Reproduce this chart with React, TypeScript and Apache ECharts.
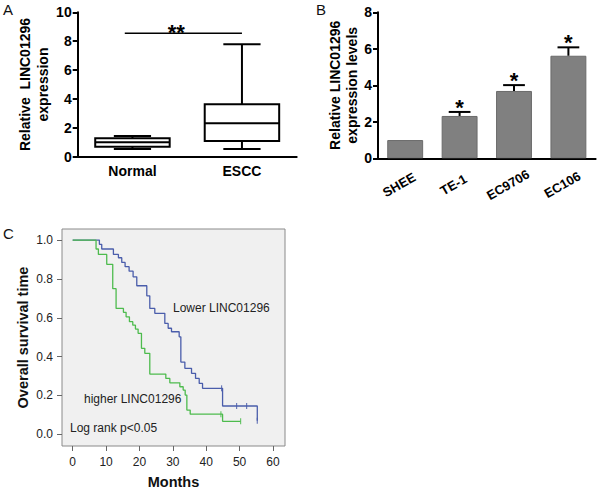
import React, { useEffect, useRef } from 'react';
import * as echarts from 'echarts';

const FONT = '"Liberation Sans", Arial, Helvetica, sans-serif';

// ---- Panel A: box plot ----
const boxCategories = ['Normal', 'ESCC'];
const boxMin = [0.53, 0.53];
const boxQ1 = [0.69, 1.09];
const boxMedian = [1.0, 2.31];
const boxQ3 = [1.27, 3.63];
const boxMax = [1.43, 7.79];
const boxYTicks = { min: 0, max: 10, interval: 2 };
const boxSigValue = 8.55;
const boxSigLabel = '**';

// ---- Panel B: bar chart ----
const cellLines = ['SHEE', 'TE-1', 'EC9706', 'EC106'];
const cellMeans = [1.0, 2.32, 3.69, 5.62];
const cellErrors = [0, 0.22, 0.32, 0.46];
const cellSig = ['', '*', '*', '*'];
const barYTicks = { min: 0, max: 8, interval: 2 };

// ---- Panel C: Kaplan-Meier ----
const lowerMonths = [0, 8.0, 8.7, 12.2, 13.7, 14.7, 15.7, 16.9, 18.1, 19.2, 22.2, 23.1, 24.6, 27.6, 28.6, 29.6, 31.9, 32.4, 33.6, 35.6, 36.8, 37.9, 38.9, 44.9, 55.3];
const lowerSurv = [1.0, 0.978, 0.954, 0.926, 0.909, 0.885, 0.863, 0.84, 0.811, 0.765, 0.713, 0.648, 0.623, 0.571, 0.546, 0.528, 0.502, 0.372, 0.34, 0.314, 0.288, 0.262, 0.237, 0.146, 0.07];
const lowerCensorMonths = [44.6, 49.1, 52.1, 55.3];
const lowerCensorSurv = [0.237, 0.146, 0.146, 0.07];
const higherMonths = [0, 7.0, 7.7, 10.2, 12.0, 13.0, 15.2, 16.0, 17.0, 18.0, 18.8, 19.6, 20.6, 21.6, 23.1, 27.9, 29.1, 32.1, 33.1, 33.7, 34.2, 35.2, 44.9, 50.3];
const higherSurv = [1.0, 0.954, 0.926, 0.875, 0.75, 0.648, 0.628, 0.605, 0.58, 0.562, 0.542, 0.52, 0.443, 0.417, 0.31, 0.288, 0.265, 0.245, 0.228, 0.202, 0.125, 0.104, 0.067, 0.067];
const higherCensorMonths = [44.4, 50.3];
const higherCensorSurv = [0.104, 0.067];
const monthTicks = [0, 10, 20, 30, 40, 50, 60];
const survTicks = [0, 0.2, 0.4, 0.6, 0.8, 1.0];

const BLUE = '#4a5dab';
const GREEN = '#4dbb4d';

export default function App() {
  const ref = useRef<HTMLDivElement>(null);

  useEffect(() => {
    if (!ref.current) return;
    const chart = echarts.init(ref.current, undefined, { renderer: 'svg' });

    const boldAxisLabel = { color: '#000', fontSize: 14, fontWeight: 'bold', fontFamily: FONT };
    const blackLine = { lineStyle: { color: '#000', width: 2 } };

    const option: any = {
      animation: false,
      backgroundColor: '#fff',
      grid: [
        { left: 77.7, top: 12.3, width: 219, height: 144.4, outerBoundsMode: 'none' },
        { left: 378, top: 12.3, width: 217.6, height: 146, outerBoundsMode: 'none' },
        {
          left: 62, top: 229, width: 223, height: 217, outerBoundsMode: 'none',
          show: true, backgroundColor: '#f0f0f0', borderColor: '#8a8a8a', borderWidth: 1,
        },
      ],
      xAxis: [
        {
          type: 'category', gridIndex: 0, data: boxCategories,
          axisLine: { show: true, onZero: false, ...blackLine },
          axisTick: { alignWithLabel: true, length: 5, ...blackLine },
          axisLabel: { ...boldAxisLabel, margin: 7 },
          splitLine: { show: false },
        },
        {
          type: 'category', gridIndex: 1, data: cellLines,
          axisLine: { show: true, onZero: false, ...blackLine },
          axisTick: { alignWithLabel: true, length: 5, ...blackLine },
          axisLabel: {
            ...boldAxisLabel, fontSize: 13, rotate: 30, align: 'center', verticalAlign: 'middle',
            margin: 23, padding: [0, 14, 0, 0],
          },
          splitLine: { show: false },
        },
        {
          type: 'value', gridIndex: 2, min: -3.2, max: 63.6,
          axisLine: { show: false, onZero: false },
          axisTick: { show: true, customValues: monthTicks, length: 5, lineStyle: { color: '#666', width: 1 } },
          axisLabel: { customValues: monthTicks, color: '#222', fontSize: 12, fontFamily: FONT, margin: 10 },
          splitLine: { show: false },
          name: 'Months', nameLocation: 'middle', nameGap: 28,
          nameTextStyle: { color: '#111', fontSize: 14.5, fontWeight: 'bold', fontFamily: FONT },
        },
      ],
      yAxis: [
        {
          type: 'value', gridIndex: 0, ...boxYTicks,
          axisLine: { show: true, onZero: false, ...blackLine },
          axisTick: { show: true, length: 5, ...blackLine },
          axisLabel: { ...boldAxisLabel, margin: 6 },
          splitLine: { show: false },
          name: 'Relative  LINC01296\nexpression', nameLocation: 'middle', nameRotate: 90, nameGap: 22,
          nameTextStyle: { color: '#000', fontSize: 14, fontWeight: 'bold', fontFamily: FONT, lineHeight: 18 },
        },
        {
          type: 'value', gridIndex: 1, ...barYTicks,
          axisLine: { show: true, onZero: false, ...blackLine },
          axisTick: { show: true, length: 5, ...blackLine },
          axisLabel: { ...boldAxisLabel, margin: 6 },
          splitLine: { show: false },
          name: 'Relative LINC01296\nexpression levels', nameLocation: 'middle', nameRotate: 90, nameGap: 16.5,
          nameTextStyle: { color: '#000', fontSize: 14, fontWeight: 'bold', fontFamily: FONT, lineHeight: 17 },
        },
        {
          type: 'value', gridIndex: 2, min: -0.06, max: 1.057,
          axisLine: { show: false, onZero: false },
          axisTick: { show: true, customValues: survTicks, length: 5, lineStyle: { color: '#666', width: 1 } },
          axisLabel: {
            customValues: survTicks, color: '#222', fontSize: 12, fontFamily: FONT, margin: 9,
            formatter: (v: number) => v.toFixed(1),
          },
          splitLine: { show: false },
          name: 'Overall survival time', nameLocation: 'middle', nameRotate: 90, nameGap: 32,
          nameTextStyle: { color: '#111', fontSize: 14.5, fontWeight: 'bold', fontFamily: FONT },
        },
      ],
      series: [
        {
          type: 'custom', name: 'box', xAxisIndex: 0, yAxisIndex: 0,
          data: boxCategories.map((_, i) => [i, boxMin[i], boxQ1[i], boxMedian[i], boxQ3[i], boxMax[i]]),
          encode: { x: 0, y: [1, 2, 3, 4, 5] },
          renderItem: (params: any, api: any) => {
            const i = api.value(0);
            const band = api.size([1, 0])[0];
            const hw = band * 0.34;
            const cw = band * 0.17;
            const cx = api.coord([i, api.value(3)])[0];
            const y = (k: number) => api.coord([i, api.value(k)])[1];
            const yMin = y(1), yQ1 = y(2), yMed = y(3), yQ3 = y(4), yMax = y(5);
            const st = { stroke: '#000', lineWidth: 2, fill: 'none' };
            return {
              type: 'group',
              children: [
                { type: 'rect', shape: { x: cx - hw, y: yQ3, width: hw * 2, height: yQ1 - yQ3 }, style: st },
                { type: 'line', shape: { x1: cx - hw, y1: yMed, x2: cx + hw, y2: yMed }, style: st },
                { type: 'line', shape: { x1: cx, y1: yQ3, x2: cx, y2: yMax }, style: st },
                { type: 'line', shape: { x1: cx, y1: yQ1, x2: cx, y2: yMin }, style: st },
                { type: 'line', shape: { x1: cx - cw, y1: yMax, x2: cx + cw, y2: yMax }, style: st },
                { type: 'line', shape: { x1: cx - cw, y1: yMin, x2: cx + cw, y2: yMin }, style: st },
              ],
            };
          },
        },
        {
          type: 'custom', name: 'sig', xAxisIndex: 0, yAxisIndex: 0,
          data: [[0, 1, boxSigValue]],
          encode: { x: [0, 1], y: 2 },
          renderItem: (params: any, api: any) => {
            const v = api.value(2);
            const p0 = api.coord([api.value(0), v]);
            const p1 = api.coord([api.value(1), v]);
            const band = api.size([1, 0])[0];
            const x0 = p0[0] - band * 0.07;
            const mid = (x0 + p1[0]) / 2 - band * 0.065;
            return {
              type: 'group',
              children: [
                { type: 'line', shape: { x1: x0, y1: p0[1], x2: p1[0], y2: p0[1] }, style: { stroke: '#000', lineWidth: 1.5 } },
                {
                  type: 'text', x: mid, y: p0[1] - 1.2,
                  style: { text: boxSigLabel, align: 'center', verticalAlign: 'middle', fontSize: 22, fontWeight: 'bold', fontFamily: FONT, fill: '#000' },
                },
              ],
            };
          },
        },
        {
          type: 'bar', name: 'cells', xAxisIndex: 1, yAxisIndex: 1,
          data: cellMeans, barWidth: '66%',
          itemStyle: { color: '#808080', borderColor: '#6a6a6a', borderWidth: 1 },
        },
        {
          type: 'custom', name: 'err', xAxisIndex: 1, yAxisIndex: 1, z: 5,
          data: cellMeans.map((m, i) => [i, m, m + cellErrors[i]]),
          encode: { x: 0, y: [1, 2] },
          renderItem: (params: any, api: any) => {
            const i = api.value(0);
            const m = api.value(1);
            const t = api.value(2);
            const band = api.size([1, 0])[0];
            const cw = band * 0.2;
            const pm = api.coord([i, m]);
            const pt = api.coord([i, t]);
            const children: any[] = [];
            if (t > m) {
              const st = { stroke: '#000', lineWidth: 2 };
              children.push({ type: 'line', shape: { x1: pm[0], y1: pm[1], x2: pt[0], y2: pt[1] }, style: st });
              children.push({ type: 'line', shape: { x1: pt[0] - cw, y1: pt[1], x2: pt[0] + cw, y2: pt[1] }, style: st });
            }
            const s = cellSig[params.dataIndex];
            if (s) {
              children.push({
                type: 'text', x: pt[0], y: pt[1] - 4.8,
                style: { text: s, align: 'center', verticalAlign: 'middle', fontSize: 22, fontWeight: 'bold', fontFamily: FONT, fill: '#000' },
              });
            }
            return { type: 'group', children };
          },
        },
        {
          type: 'line', name: 'Lower LINC01296', xAxisIndex: 2, yAxisIndex: 2,
          data: lowerMonths.map((m, i) => [m, lowerSurv[i]]),
          step: 'end', showSymbol: false, symbol: 'none',
          lineStyle: { color: BLUE, width: 1.3 },
        },
        {
          type: 'line', name: 'higher LINC01296', xAxisIndex: 2, yAxisIndex: 2,
          data: higherMonths.map((m, i) => [m, higherSurv[i]]),
          step: 'end', showSymbol: false, symbol: 'none',
          lineStyle: { color: GREEN, width: 1.3 },
        },
        {
          type: 'scatter', name: 'lower censored', xAxisIndex: 2, yAxisIndex: 2,
          data: lowerCensorMonths.map((m, i) => [m, lowerCensorSurv[i]]),
          symbol: 'rect', symbolSize: [1.2, 6], itemStyle: { color: BLUE },
        },
        {
          type: 'scatter', name: 'higher censored', xAxisIndex: 2, yAxisIndex: 2,
          data: higherCensorMonths.map((m, i) => [m, higherCensorSurv[i]]),
          symbol: 'rect', symbolSize: [1.2, 6], itemStyle: { color: GREEN },
        },
      ],
      graphic: [
        { type: 'text', left: 3, top: 2, style: { text: 'A', fontSize: 15, fontFamily: FONT, fill: '#111' } },
        { type: 'text', left: 316, top: 2, style: { text: 'B', fontSize: 15, fontFamily: FONT, fill: '#111' } },
        { type: 'text', left: 3, top: 226, style: { text: 'C', fontSize: 15, fontFamily: FONT, fill: '#111' } },
        { type: 'text', left: 173, top: 302, style: { text: 'Lower LINC01296', fontSize: 12, fontFamily: FONT, fill: '#222' } },
        { type: 'text', left: 84, top: 393, style: { text: 'higher LINC01296', fontSize: 12, fontFamily: FONT, fill: '#222' } },
        { type: 'text', left: 70, top: 422, style: { text: 'Log rank p<0.05', fontSize: 12, fontFamily: FONT, fill: '#222' } },
      ],
    };

    chart.setOption(option);
    return () => chart.dispose();
  }, []);

  return (
    <div
      ref={ref}
      style={{ position: 'absolute', left: 0, top: 0, width: 600, height: 492, background: '#fff' }}
    />
  );
}
